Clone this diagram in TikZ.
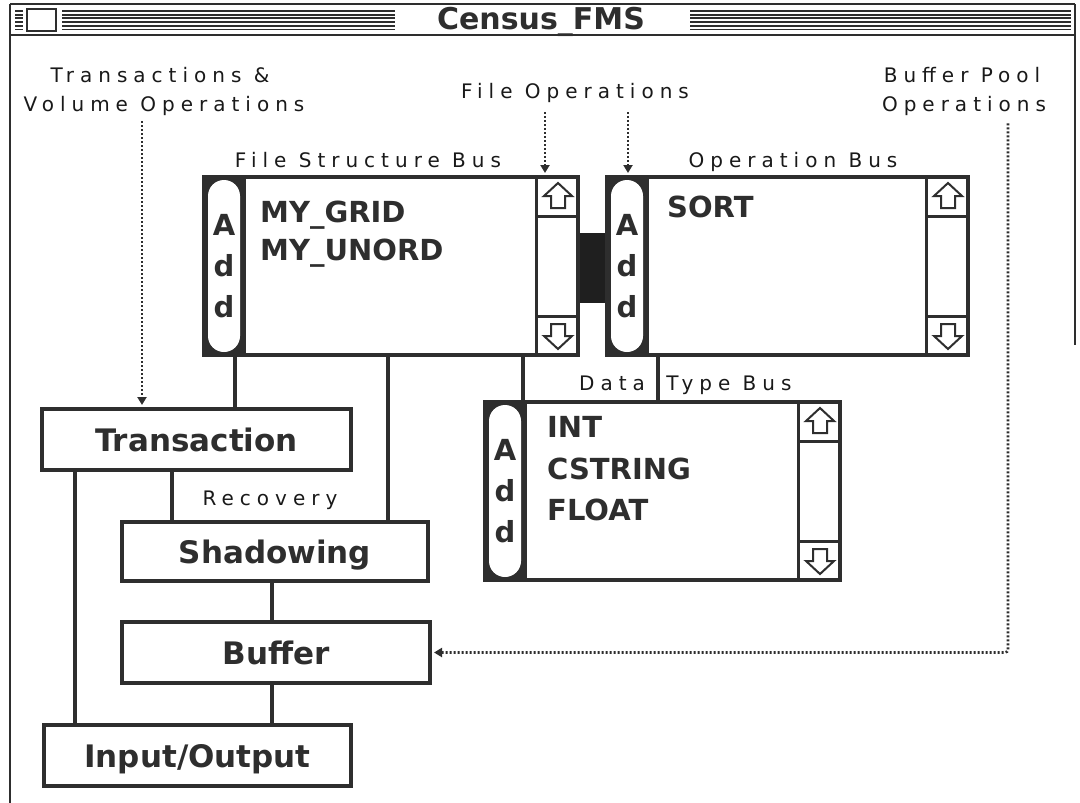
\documentclass[tikz,border=0pt]{standalone}
\usepackage{fontspec}
\usetikzlibrary{arrows.meta,calc}
\newfontfamily\genv{DejaVu Sans}[LetterSpace=30]
\newfontfamily\chic{DejaVu Sans}
\colorlet{ink}{black!82}
\tikzset{
  frame/.style={draw=ink, line width=2pt},
  boxn/.style={draw=ink, line width=4pt, fill=white, rectangle, inner sep=0pt,
    text height=23pt, text depth=0pt, text=ink,
    font=\chic\bfseries\fontsize{31}{31}\selectfont},
  bus/.style={draw=ink, line width=4pt, fill=white, rectangle, inner sep=0pt},
  conn/.style={draw=ink, line width=4pt},
  dots/.style={draw=ink, line width=2.6pt, dash pattern=on 2pt off 2pt,
    -{Triangle[length=8pt,width=9pt]}},
  lab/.style={font=\genv\fontsize{20}{20}\selectfont, text=black!90, inner sep=0pt,
    text height=14.5pt, text depth=0pt},
  item/.style={font=\chic\bfseries\fontsize{29}{29}\selectfont, text=ink, inner sep=0pt,
    anchor=west, text height=21pt, text depth=0pt},
  pillt/.style={font=\chic\bfseries\fontsize{29}{41}\selectfont, text=ink, inner sep=0pt,
    align=center},
  uparrow/.pic={\draw[ink, line width=2pt, line join=miter]
    (0,-13) -- (14,0) -- (7,0) -- (7,12) -- (-7,12) -- (-7,0) -- (-14,0) -- cycle;},
  downarrow/.pic={\draw[ink, line width=2pt, line join=miter]
    (0,13) -- (14,0) -- (7,0) -- (7,-12) -- (-7,-12) -- (-7,0) -- (-14,0) -- cycle;},
}
\newcommand\busparts[1]{%
  \fill[ink] (#1.north west) rectangle ($(#1.south west)+(44,0)$);
  \fill[white, rounded corners=16pt] ($(#1.north west)+(6,5)$) rectangle ($(#1.south west)+(38,-5)$);
  \node[pillt] at ($(#1.west)+(22,0)$) {A\\d\\d};
  \draw[ink, line width=3pt] ($(#1.north east)+(-44,0)$) -- ($(#1.south east)+(-44,0)$);
  \draw[ink, line width=3pt] ($(#1.north east)+(-44,41)$) -- ($(#1.north east)+(0,41)$);
  \draw[ink, line width=3pt] ($(#1.south east)+(-44,-41)$) -- ($(#1.south east)+(0,-41)$);
  \pic at ($(#1.north east)+(-22,21)$) {uparrow};
  \pic at ($(#1.south east)+(-22,-21)$) {downarrow};
}
\begin{document}
\begin{tikzpicture}[x=1pt,y=-1pt]
\useasboundingbox (0,0) rectangle (1080,803);
\fill[white] (0,0) rectangle (1080,803);
% window frame and title bar
\draw[frame] (10,4) -- (1075,4);
\draw[frame] (10,4) -- (10,803);
\draw[frame] (1075,4) -- (1075,345);
\draw[frame] (10,35) -- (1075,35);
\foreach \i in {0,...,5} {
  \draw[ink, line width=1.9pt] (15,{11+3.7*\i}) -- (23,{11+3.7*\i});
  \draw[ink, line width=1.9pt] (62,{11+3.7*\i}) -- (395,{11+3.7*\i});
  \draw[ink, line width=1.9pt] (690,{11+3.7*\i}) -- (1071,{11+3.7*\i});
}
\draw[ink, line width=2pt, fill=white] (27,9) rectangle (56,31);
\node[font=\chic\bfseries\fontsize{30}{30}\selectfont, text height=21pt, text depth=0pt,
  inner sep=0pt, text=ink] (title) at (541,19) {Census\_FMS};

% labels
\node[lab] (tv1) at (160,75) {Transactions \&};
\node[lab] (tv2) at (164,104) {Volume Operations};
\node[lab] (fo) at (575,91) {File Operations};
\node[lab] (bp1) at (962,75) {Buffer Pool};
\node[lab] (bp2) at (964,104) {Operations};
\node[lab] (fsl) at (368,160) {File Structure Bus};
\node[lab] (opl) at (793,160) {Operation Bus};
\node[lab] (dtl1) at (612,383) {Data};
\node[lab] (dtl2) at (729,383) {Type Bus};
\node[lab] (rec) at (270,498) {Recovery};

% bus boxes
\node[bus, minimum width=374pt, minimum height=178pt] (fs) at (391,266) {};
\node[bus, minimum width=361pt, minimum height=178pt] (op) at (787.5,266) {};
\node[bus, minimum width=355pt, minimum height=178pt] (dt) at (662.5,491) {};
\busparts{fs}
\busparts{op}
\busparts{dt}
\fill[black!88] ($(fs.east)+(0,-33)$) rectangle ($(op.west)+(0,37)$);

\node[item] (g1) at (260,212) {MY\_GRID};
\node[item] (g2) at (260,250) {MY\_UNORD};
\node[item] (s1) at (667,207) {SORT};
\node[item] (t1) at (547,427) {INT};
\node[item] (t2) at (547,469) {CSTRING};
\node[item] (t3) at (547,510) {FLOAT};

% module boxes
\node[boxn, minimum width=309pt, minimum height=61pt] (trans) at (196.5,439.5) {Transaction};
\node[boxn, minimum width=306pt, minimum height=59pt] (shad) at (275,551.5) {Shadowing};
\node[boxn, minimum width=308pt, minimum height=61pt] (buf) at (276,652.5) {Buffer};
\node[boxn, minimum width=307pt, minimum height=61pt] (io) at (197.5,755.5) {Input/Output};

% solid connectors
\coordinate (k1) at (235,0);
\coordinate (k2) at (388,0);
\coordinate (k3) at (523,0);
\coordinate (k4) at (658,0);
\coordinate (k5) at (172,0);
\coordinate (k6) at (75,0);
\coordinate (k7) at (272,0);
\draw[conn] (fs.south -| k1) -- (trans.north -| k1);
\draw[conn] (fs.south -| k2) -- (shad.north -| k2);
\draw[conn] (fs.south -| k3) -- (dt.north -| k3);
\draw[conn] (op.south -| k4) -- (dt.north -| k4);
\draw[conn] (trans.south -| k5) -- (shad.north -| k5);
\draw[conn] (trans.south -| k6) -- (io.north -| k6);
\draw[conn] (shad.south -| k7) -- (buf.north -| k7);
\draw[conn] (buf.south -| k7) -- (io.north -| k7);

% dotted operation arrows
\coordinate (d1) at (142,0);
\coordinate (d2) at (545,0);
\coordinate (d3) at (628,0);
\coordinate (d4) at (1008,0);
\draw[dots, shorten >=2pt] ($(tv2.south -| d1)+(0,10)$) -- (trans.north -| d1);
\draw[dots, shorten >=2pt] ($(fo.south -| d2)+(0,14)$) -- (fs.north -| d2);
\draw[dots, shorten >=2pt] ($(fo.south -| d3)+(0,14)$) -- (op.north -| d3);
\draw[dots, shorten >=2pt, rounded corners=3pt] ($(bp2.south -| d4)+(0,12)$) |- (buf.east);
\end{tikzpicture}
\end{document}
